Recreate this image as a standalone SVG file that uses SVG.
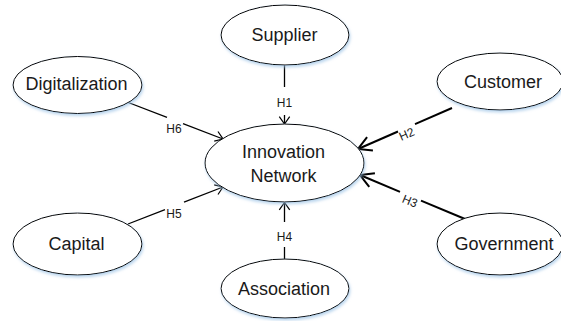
<svg xmlns="http://www.w3.org/2000/svg" width="561" height="321" viewBox="0 0 561 321">
<defs>
<filter id="sh" x="-20%" y="-20%" width="140%" height="150%">
<feGaussianBlur in="SourceAlpha" stdDeviation="1.5" result="b"/>
<feOffset in="b" dx="0.5" dy="2" result="o"/>
<feFlood flood-color="#9cc3e6" flood-opacity="0.7"/>
<feComposite in2="o" operator="in" result="s"/>
<feMerge><feMergeNode in="s"/><feMergeNode in="SourceGraphic"/></feMerge>
</filter>
<marker id="a1" markerUnits="userSpaceOnUse" markerWidth="20" markerHeight="20" refX="10" refY="10" orient="auto">
<path d="M2.6,4.8 L10,10 L2.6,15.2" fill="none" stroke="#000" stroke-width="1.2"/>
</marker>
<marker id="a2" markerUnits="userSpaceOnUse" markerWidth="40" markerHeight="40" refX="20" refY="20" orient="auto">
<path d="M6.9,12.7 L20,20 L6.9,27.3" fill="none" stroke="#000" stroke-width="2"/>
</marker>
</defs>
<style>
.node ellipse{fill:#fff;stroke:#000;stroke-width:1;filter:url(#sh)}
.node text{font-family:"Liberation Sans",Arial,sans-serif;font-size:18px;fill:#1a1a1a;text-anchor:middle}
.c{fill:none;stroke:#000;stroke-width:1.3}
.t{stroke-width:2}
.lab{font-family:"Liberation Sans",Arial,sans-serif;font-size:12px;fill:#1a1a1a;text-anchor:middle}
</style>
<rect width="561" height="321" fill="#fff"/>
<g id="connectors">
<path class="c" d="M284.5,65 V87"/>
<path class="c" d="M284.5,115 V124" marker-end="url(#a1)"/>
<text class="lab" x="284.5" y="106.5">H1</text>
<path class="c" d="M284.5,259 V247"/>
<path class="c" d="M284.5,222 V202.5" marker-end="url(#a1)"/>
<text class="lab" x="284.5" y="241">H4</text>
<path class="c" d="M127,102 L167,117.4"/>
<path class="c" d="M183,123.6 L223,139" marker-end="url(#a1)"/>
<text class="lab" x="174" y="132.5">H6</text>
<path class="c" d="M128,224 L165,209.6"/>
<path class="c" d="M184,202.2 L223,187" marker-end="url(#a1)"/>
<text class="lab" x="174" y="217.5">H5</text>
<path class="c t" d="M452,108 L415,124.1"/>
<path class="c t" d="M398,131.5 L358,149" marker-end="url(#a2)"/>
<text class="lab" transform="translate(406.5,134) rotate(-23.6)" y="4.3">H2</text>
<path class="c t" d="M465,219 L421,200.6"/>
<path class="c t" d="M400,191.8 L360,175" marker-end="url(#a2)"/>
<text class="lab" transform="translate(410,201) rotate(22.7)" y="4.3">H3</text>
</g>
<g id="supplier" class="node">
<ellipse cx="285" cy="35" rx="64" ry="30"/>
<text x="284.5" y="40.5">Supplier</text>
</g>
<g id="digitalization" class="node">
<ellipse cx="77.5" cy="85" rx="64.5" ry="28.5"/>
<text x="76.5" y="89.5">Digitalization</text>
</g>
<g id="customer" class="node">
<ellipse cx="500" cy="81.5" rx="63" ry="28.5"/>
<text x="503" y="88">Customer</text>
</g>
<g id="innovation-network" class="node">
<ellipse cx="284.5" cy="163" rx="79.5" ry="39"/>
<text x="283.5" y="158">Innovation</text>
<text x="283.5" y="182">Network</text>
</g>
<g id="capital" class="node">
<ellipse cx="77.5" cy="244" rx="64.5" ry="31"/>
<text x="76.5" y="250">Capital</text>
</g>
<g id="association" class="node">
<ellipse cx="285" cy="288.5" rx="64" ry="29.5"/>
<text x="284" y="295">Association</text>
</g>
<g id="government" class="node">
<ellipse cx="500" cy="244" rx="63" ry="31"/>
<text x="504" y="250">Government</text>
</g>
</svg>
